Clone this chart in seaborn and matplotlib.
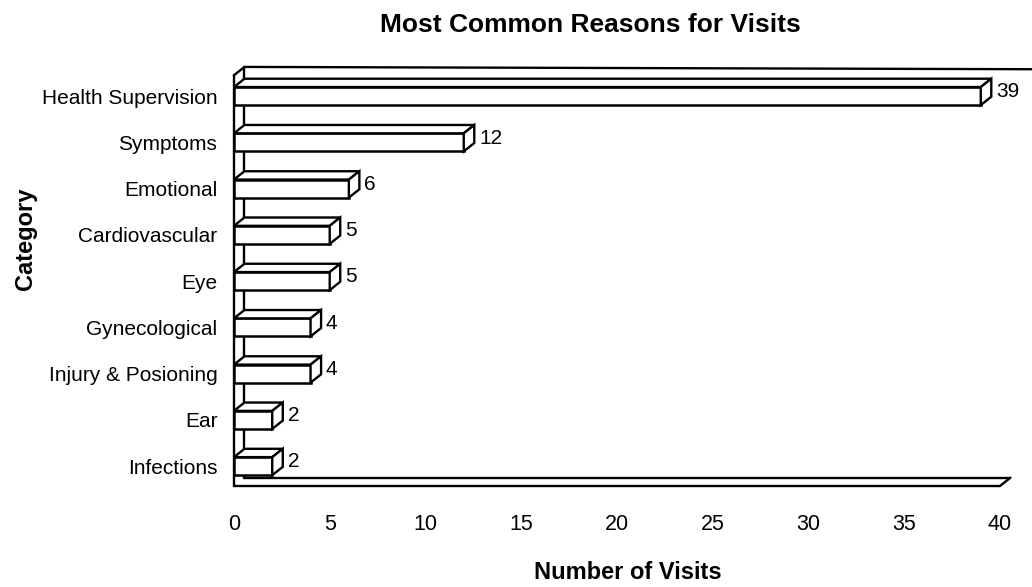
import pandas as pd
import seaborn as sns
import matplotlib.pyplot as plt
from matplotlib.patches import Polygon

categories = ["Health Supervision", "Symptoms", "Emotional", "Cardiovascular", "Eye",
              "Gynecological", "Injury & Posioning", "Ear", "Infections"]
visits = [39, 12, 6, 5, 5, 4, 4, 2, 2]
x_ticks = [0, 5, 10, 15, 20, 25, 30, 35, 40]

df = pd.DataFrame({"category": categories, "visits": visits})

sns.set_theme(style="white")
plt.rcParams['font.family'] = ['Liberation Sans', 'DejaVu Sans']
plt.rcParams.update({"text.color": "black", "axes.labelcolor": "black",
                     "xtick.color": "black", "ytick.color": "black"})

fig = plt.figure(figsize=(10.32, 5.87), dpi=100)
ax = fig.add_axes([0.2267, 0.172, 0.7422, 0.714])

sns.barplot(data=df, x="visits", y="category", orient="h", color="white",
            saturation=1, edgecolor="black", linewidth=1.8, width=0.39, ax=ax)

y_top, y_bot = -0.63, 8.43
ax.set_xlim(0, 40)
ax.set_ylim(y_bot, y_top)

# fake 3d depth (data units)
dx, dy = 0.55, 0.18
lw = 1.7

for bar, v in zip(list(ax.patches), visits):
    x0, y0 = bar.get_x(), bar.get_y()
    w, h = bar.get_width(), bar.get_height()
    top = Polygon([(x0, y0), (x0 + w, y0), (x0 + w + dx, y0 - dy), (x0 + dx, y0 - dy)],
                  facecolor="white", edgecolor="black", lw=lw, clip_on=False)
    side = Polygon([(x0 + w, y0), (x0 + w, y0 + h), (x0 + w + dx, y0 + h - dy), (x0 + w + dx, y0 - dy)],
                   facecolor="white", edgecolor="black", lw=lw, clip_on=False)
    ax.add_patch(top)
    ax.add_patch(side)
    ax.text(x0 + w + dx + 0.25, y0 + h / 2 - dy / 2, str(v), va="center", ha="left", fontsize=15)

# walls and floor
xmax = x_ticks[-1]
lines = [
    ([0, 0], [y_top + dy, y_bot]),
    ([dx, dx], [y_top, y_bot - dy]),
    ([0, dx], [y_top + dy, y_top]),
    ([dx, xmax + dx + 1.2], [y_top, y_top + 0.05]),
    ([0, xmax], [y_bot, y_bot]),
    ([dx, xmax + dx], [y_bot - dy, y_bot - dy]),
    ([xmax, xmax + dx], [y_bot, y_bot - dy]),
]
for xs, ys in lines:
    ax.plot(xs, ys, color="black", lw=lw, clip_on=False, zorder=0.5)

for s in ax.spines.values():
    s.set_visible(False)

ax.set_xticks(x_ticks)
ax.set_xticklabels([str(t) for t in x_ticks])
ax.tick_params(axis="x", length=0, pad=20, labelsize=15.5)
ax.tick_params(axis="y", length=0, pad=12, labelsize=15)

ax.set_title("Most Common Reasons for Visits", fontsize=19, fontweight="bold", pad=25, x=0.465)
ax.set_xlabel("Number of Visits", fontsize=17, fontweight="bold", labelpad=19, x=0.514)
ax.set_ylabel("Category", fontsize=17, fontweight="bold", labelpad=3, y=0.589)

plt.savefig("out.png", dpi=100)
